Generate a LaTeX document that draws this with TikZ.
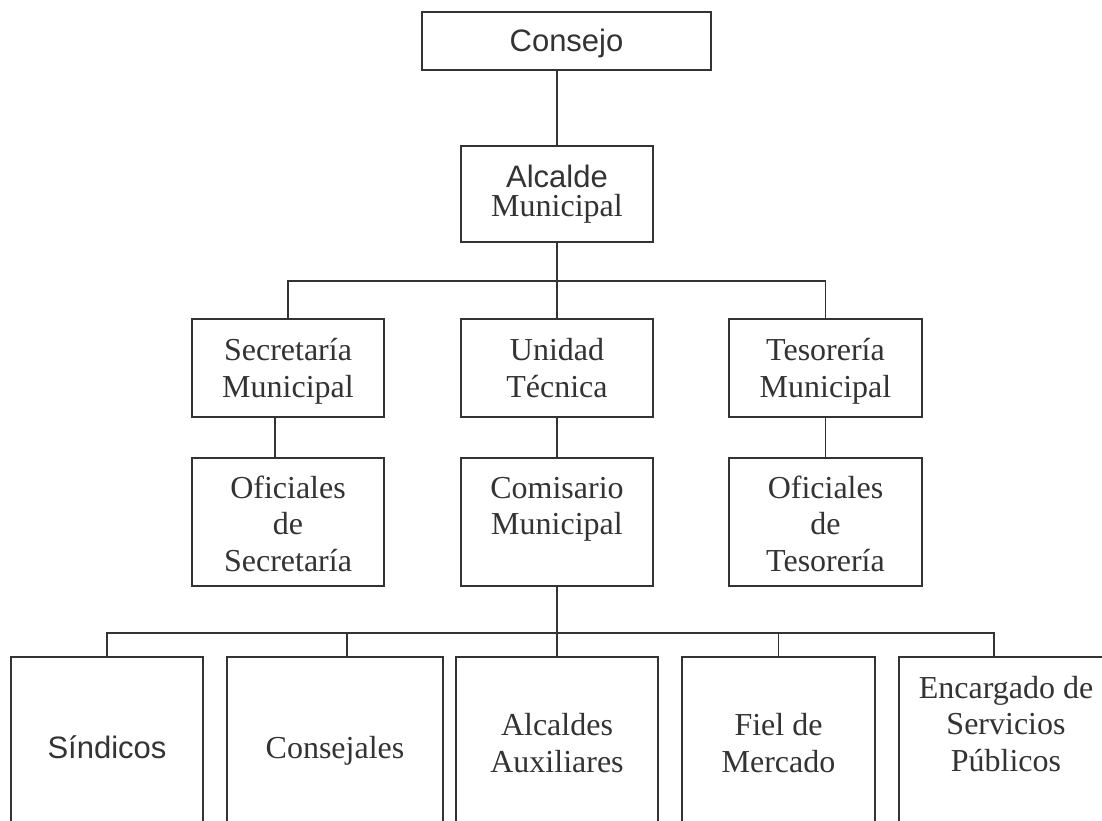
\documentclass[tikz,border=0pt]{standalone}
\usepackage{fontspec}
\setmainfont{Liberation Serif}
\setsansfont{Liberation Sans}
\definecolor{ink}{HTML}{333333}
\newcommand\TopS{\rule{0pt}{25pt}}
\newcommand\LastL[2]{\raisebox{0pt}[\height][0pt]{#2}\rule[-#1pt]{0pt}{#1pt}}
\tikzset{
  box/.style={draw=ink, line width=1.6pt, inner sep=0pt, outer sep=0pt,
    align=center, text=ink, font=\fontsize{32}{36.5}\selectfont},
  conn/.style={draw=ink, line width=1.6pt}
}
\begin{document}
\begin{tikzpicture}[x=1pt,y=-1pt]
\useasboundingbox (0,0) rectangle (1102,821);
\fill[white] (0,0) rectangle (1102,821);
\clip (0,0) rectangle (1102,821);
% top
\node[box, minimum width=289pt, minimum height=58pt] (consejo) at (566.5,41) {\sffamily\fontsize{31}{36}\selectfont\TopS\LastL{3}{Consejo}};
\node[box, minimum width=192pt, minimum height=96pt] (alcalde) at (557,194) {{\sffamily\fontsize{31}{36}\selectfont Alcalde}\\[-7pt]Municipal};
% level 2
\node[box, minimum width=192pt, minimum height=98pt] (secre) at (288,368) {\TopS Secretaría\\\LastL{3}{Municipal}};
\node[box, minimum width=192pt, minimum height=98pt] (unidad) at (557,368) {\TopS Unidad\\\LastL{3}{Técnica}};
\node[box, minimum width=193pt, minimum height=98pt] (tesor) at (825.5,368) {\TopS Tesorería\\\LastL{3}{Municipal}};
% level 3
\node[box, minimum width=192pt, minimum height=128pt] (ofsec) at (288,522) {\TopS Oficiales\\de\\\LastL{0}{Secretaría}};
\node[box, minimum width=192pt, minimum height=128pt] (comis) at (557,522) {\TopS Comisario\\Municipal\\\LastL{0}{}};
\node[box, minimum width=193pt, minimum height=128pt] (oftes) at (825.5,522) {\TopS Oficiales\\de\\\LastL{0}{Tesorería}};
% bottom row (cut by the page edge)
\node[box, minimum width=192pt, minimum height=182pt] (sind) at (107,748) {\sffamily\fontsize{31}{36}\selectfont\TopS\LastL{5}{Síndicos}};
\node[box, minimum width=216pt, minimum height=182pt] (consj) at (335,748) {\TopS\LastL{5}{Consejales}};
\node[box, minimum width=202pt, minimum height=182pt] (alcaux) at (557,748) {\TopS Alcaldes\\\LastL{13}{Auxiliares}};
\node[box, minimum width=193pt, minimum height=182pt] (fiel) at (778.5,748) {\TopS Fiel de\\\LastL{13}{Mercado}};
\node[box, minimum width=214pt, minimum height=182pt] (enc) at (1006,748) {\TopS Encargado de\\Servicios\\\LastL{52}{Públicos}};
% connectors
\coordinate (b1) at (557,281);
\coordinate (b2) at (557,633);
\draw[conn] (alcalde.north) -- (alcalde.north |- consejo.south);
\draw[conn] (alcalde.south) -- (unidad.north);
\draw[conn] (secre.north) |- (b1) -| (tesor.north);
\draw[conn] ([xshift=-13pt]secre.south) -- ([xshift=-13pt]ofsec.north);
\draw[conn] (unidad.south) -- (comis.north);
\draw[conn] (tesor.south) -- (oftes.north);
\draw[conn] (comis.south) -- (alcaux.north);
\draw[conn] (sind.north) |- (b2);
\draw[conn] ([xshift=-12pt]enc.north) |- (b2);
\draw[conn] ([xshift=12pt]consj.north) -- ([xshift=12pt]consj.north |- b2);
\draw[conn] (fiel.north) -- (fiel.north |- b2);
\end{tikzpicture}
\end{document}
